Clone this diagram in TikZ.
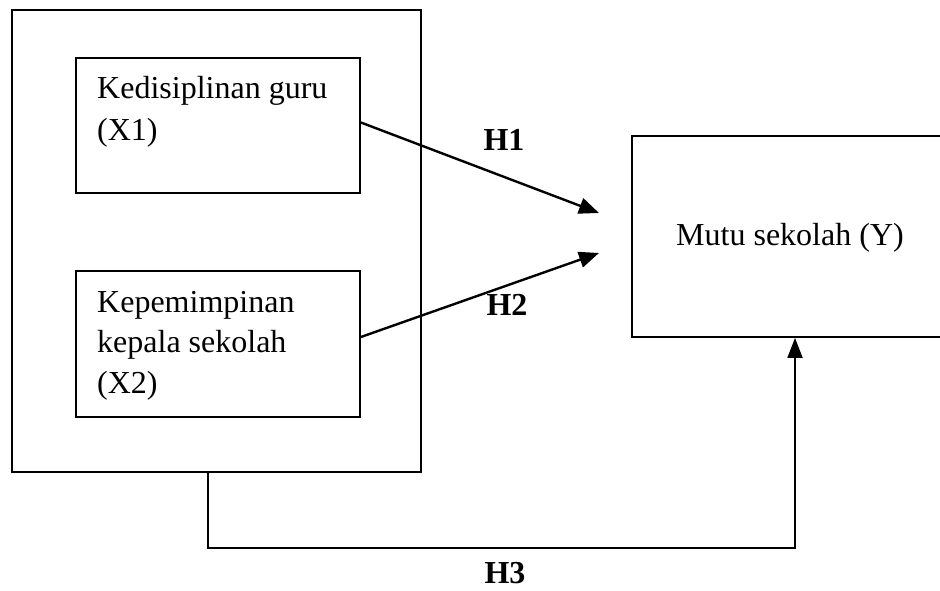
\documentclass[tikz,border=0pt]{standalone}
\usepackage{fontspec}
\setmainfont{Liberation Serif}
\usetikzlibrary{arrows.meta,calc}
\begin{document}
\begin{tikzpicture}[x=1pt,y=-1pt,
 box/.style={draw,line width=1.8pt,inner sep=0pt},
 lbl/.style={font=\fontsize{32}{40}\selectfont,inner sep=0pt,anchor=base west},
 hlbl/.style={font=\fontsize{32}{40}\selectfont\bfseries,inner sep=0pt,anchor=base},
 arr/.style={line width=2.4pt,-{Triangle[length=20pt,width=16pt]}},
 conn/.style={line width=1.8pt,-{Triangle[length=20pt,width=15pt]}}]
\useasboundingbox (0,0) rectangle (940,591);
\clip (0,0) rectangle (940,591);
% boxes
\node[box,minimum width=409pt,minimum height=462pt] (outer) at (216.5,241) {};
\node[box,minimum width=284pt,minimum height=135pt] (x1) at (218,125.5) {};
\node[box,minimum width=284pt,minimum height=146pt] (x2) at (218,344) {};
\node[box,minimum width=348pt,minimum height=201pt] (ybox) at (806,236.5) {};
% texts
\node[lbl] (x1a) at (97,99) {Kedisiplinan guru};
\node[lbl] (x1b) at (97,141) {(X1)};
\node[lbl] (x2a) at (97,312) {Kepemimpinan};
\node[lbl] (x2b) at (97,352) {kepala sekolah};
\node[lbl] (x2c) at (97,393) {(X2)};
\node[font=\fontsize{32}{40}\selectfont,inner sep=0pt,anchor=base] (yt) at (790,245) {Mutu sekolah (Y)};
\node[hlbl] (h1) at (504,150) {H1};
\node[hlbl] (h2) at (507,315) {H2};
\node[hlbl] (h3) at (505,583) {H3};
% connectors
\coordinate (t1) at (599,213);
\coordinate (t2) at (599,253);
\draw[arr] ($(x1.east)+(0,-3)$) -- (t1);
\draw[arr] ($(x2.east)+(0,-7)$) -- (t2);
\coordinate (h3a) at (208,548);
\coordinate (h3b) at (795,548);
\draw[conn] (outer.south -| h3a) -- (h3a) -- (h3b) -- (ybox.south -| h3b);
\end{tikzpicture}
\end{document}
